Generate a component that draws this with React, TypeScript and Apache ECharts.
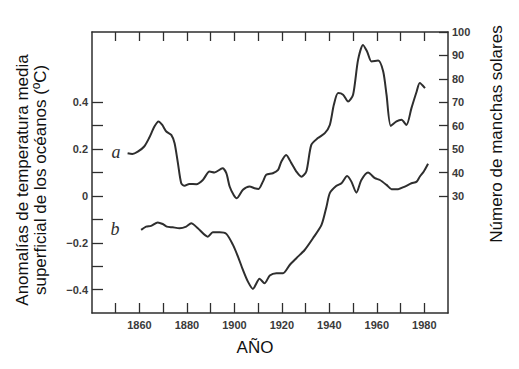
import React, { useEffect, useRef } from "react";
import * as echarts from "echarts";

// Curve a: sunspot number (right axis)
const yearsA = [1855, 1857, 1859.3, 1862, 1864, 1866.3, 1868, 1869.6, 1871.3, 1873.4, 1874.8, 1876.2, 1877.6, 1879, 1881, 1884, 1886.7, 1889.5, 1891.6, 1895, 1896.6, 1898, 1899.7, 1901, 1903.6, 1906.4, 1908.5, 1910.2, 1912, 1913.4, 1916.2, 1918.4, 1919.8, 1921.8, 1924, 1926.1, 1928.2, 1930.3, 1932.4, 1935.2, 1938.1, 1940.2, 1941.9, 1943.7, 1945.8, 1947.9, 1950, 1952.1, 1954.2, 1955.9, 1957.8, 1960.6, 1962.7, 1964.1, 1965.9, 1968.3, 1970.4, 1972.5, 1974.6, 1976.8, 1978.1, 1980.3];
const sunspotsA = [48.2, 47.9, 48.9, 51.1, 54.6, 59.6, 61.8, 60.3, 57.5, 56.1, 52.5, 44, 35.4, 34.3, 35.1, 35, 36.8, 40.4, 40, 41.8, 39.7, 34, 30.4, 29, 32.6, 34, 33.3, 33, 36.1, 39, 39.7, 41.1, 44.7, 47.5, 44, 40.4, 38.2, 40.4, 51.8, 54.7, 56.8, 60.3, 68.9, 73.9, 73.2, 70.3, 73.2, 88.1, 94.5, 91.7, 87.4, 87.8, 83.1, 73.2, 59.9, 61.8, 62.5, 60.3, 67.5, 74.6, 78.2, 76];

// Curve b: sea-surface temperature anomaly (left axis)
const yearsB = [1860.7, 1862.8, 1864.9, 1867.7, 1869.8, 1871.5, 1874, 1876.9, 1879.7, 1881.8, 1884.6, 1888.8, 1890.9, 1893.8, 1896.6, 1899.4, 1901.5, 1903.6, 1905.7, 1907.8, 1910.6, 1912.7, 1914.9, 1917.7, 1920.5, 1923.3, 1926.1, 1929.6, 1933.1, 1936.7, 1938.8, 1940.2, 1943, 1945.1, 1947.5, 1949.3, 1951.4, 1953.5, 1956.3, 1959.2, 1961.3, 1964.1, 1966.2, 1969, 1971.8, 1974.6, 1976.8, 1978.1, 1979.8, 1981.6];
const anomaliesB = [-0.145, -0.131, -0.128, -0.113, -0.12, -0.131, -0.134, -0.138, -0.131, -0.117, -0.138, -0.174, -0.155, -0.155, -0.162, -0.209, -0.259, -0.316, -0.366, -0.397, -0.354, -0.373, -0.34, -0.33, -0.33, -0.295, -0.266, -0.231, -0.181, -0.124, -0.046, 0.012, 0.043, 0.054, 0.085, 0.061, 0.014, 0.068, 0.1, 0.076, 0.068, 0.047, 0.029, 0.029, 0.04, 0.054, 0.061, 0.082, 0.104, 0.137];

// Ticks and labels
const xTickYears = [1850, 1860, 1870, 1880, 1890, 1900, 1910, 1920, 1930, 1940, 1950, 1960, 1970, 1980];
const xLabelYears = [1860, 1880, 1900, 1920, 1940, 1960, 1980];
const leftTicks = [-0.4, -0.3, -0.2, -0.1, 0, 0.1, 0.2, 0.3, 0.4];
const leftLabels = [-0.4, -0.2, 0, 0.2, 0.4];
const rightTicks = [30, 40, 50, 60, 70, 80, 90, 100];
const rightLabels = [30, 40, 50, 60, 70, 80, 90, 100];

const INK = "#2e2e2e";
const SANS = "Liberation Sans, Arial, sans-serif";

export default function App() {
  const ref = useRef<HTMLDivElement>(null);

  useEffect(() => {
    if (!ref.current) return;
    const chart = echarts.init(ref.current, undefined, { renderer: "svg" });

    const dataA = yearsA.map((y, i) => [y, sunspotsA[i]]);
    const dataB = yearsB.map((y, i) => [y, anomaliesB[i]]);

    const tickLabelStyle = {
      color: "#3a3a3a",
      fontSize: 11,
      fontWeight: "bold" as const,
      fontFamily: SANS,
    };

    chart.setOption({
      animation: false,
      backgroundColor: "#ffffff",
      grid: { left: 92, top: 32, right: 71, bottom: 56, containLabel: false },
      xAxis: [
        {
          type: "value",
          position: "bottom",
          min: 1840,
          max: 1990,
          interval: 10,
          axisLine: { show: true, onZero: false, lineStyle: { color: INK, width: 1.5 } },
          axisTick: { show: true, inside: true, length: 10, customValues: xTickYears, lineStyle: { color: INK, width: 1.3 } },
          axisLabel: { ...tickLabelStyle, margin: 6, customValues: xLabelYears, formatter: (v: number) => String(v) },
          splitLine: { show: false },
        },
        {
          type: "value",
          position: "top",
          min: 1840,
          max: 1990,
          interval: 10,
          axisLine: { show: true, onZero: false, lineStyle: { color: INK, width: 1.5 } },
          axisTick: { show: true, inside: true, length: 9, customValues: xTickYears, lineStyle: { color: INK, width: 1.3 } },
          axisLabel: { show: false },
          splitLine: { show: false },
        },
      ],
      yAxis: [
        {
          type: "value",
          position: "left",
          min: -0.5,
          max: 0.7,
          interval: 0.1,
          axisLine: { show: true, onZero: false, lineStyle: { color: INK, width: 1.5 } },
          axisTick: { show: true, inside: true, length: 11, customValues: leftTicks, lineStyle: { color: INK, width: 1.3 } },
          axisLabel: {
            ...tickLabelStyle,
            margin: 4,
            customValues: leftLabels,
            formatter: (v: number) => (Math.abs(v) < 1e-9 ? "0" : v < 0 ? "\u2212" + Math.abs(v).toFixed(1) : v.toFixed(1)),
          },
          splitLine: { show: false },
        },
        {
          type: "value",
          position: "right",
          min: -20,
          max: 100,
          interval: 10,
          axisLine: { show: true, onZero: false, lineStyle: { color: INK, width: 1.5 } },
          axisTick: { show: true, inside: true, length: 9, customValues: rightTicks, lineStyle: { color: INK, width: 1.3 } },
          axisLabel: { ...tickLabelStyle, margin: 4, customValues: rightLabels, formatter: (v: number) => String(v) },
          splitLine: { show: false },
        },
      ],
      series: [
        {
          name: "a",
          type: "line",
          xAxisIndex: 0,
          yAxisIndex: 1,
          data: dataA,
          smooth: 0.25,
          showSymbol: false,
          symbol: "none",
          lineStyle: { color: INK, width: 2 },
        },
        {
          name: "b",
          type: "line",
          xAxisIndex: 0,
          yAxisIndex: 0,
          data: dataB,
          smooth: 0.25,
          showSymbol: false,
          symbol: "none",
          lineStyle: { color: INK, width: 2 },
        },
      ],
      graphic: [
        {
          type: "text",
          x: 31,
          y: 180,
          rotation: Math.PI / 2,
          style: {
            text: "Anomalías de temperatura media\nsuperficial de los océanos (ºC)",
            fontSize: 17,
            lineHeight: 18,
            fontFamily: SANS,
            fill: "#111",
            align: "center",
            verticalAlign: "middle",
          },
        },
        {
          type: "text",
          x: 496,
          y: 134,
          rotation: Math.PI / 2,
          style: {
            text: "Número de manchas solares",
            fontSize: 17,
            fontFamily: SANS,
            fill: "#111",
            align: "center",
            verticalAlign: "middle",
          },
        },
        {
          type: "text",
          x: 255,
          y: 347,
          style: {
            text: "AÑO",
            fontSize: 17,
            fontFamily: SANS,
            fill: "#111",
            align: "center",
            verticalAlign: "middle",
          },
        },
        {
          type: "text",
          x: 116,
          y: 152,
          style: {
            text: "a",
            fontSize: 18,
            fontStyle: "italic",
            fontFamily: "Liberation Serif, DejaVu Serif, serif",
            fill: INK,
            align: "center",
            verticalAlign: "middle",
          },
        },
        {
          type: "text",
          x: 115,
          y: 229,
          style: {
            text: "b",
            fontSize: 18,
            fontStyle: "italic",
            fontFamily: "Liberation Serif, DejaVu Serif, serif",
            fill: INK,
            align: "center",
            verticalAlign: "middle",
          },
        },
      ],
    });

    return () => chart.dispose();
  }, []);

  return <div ref={ref} style={{ width: 519, height: 369, position: "absolute", left: 0, top: 0 }} />;
}
